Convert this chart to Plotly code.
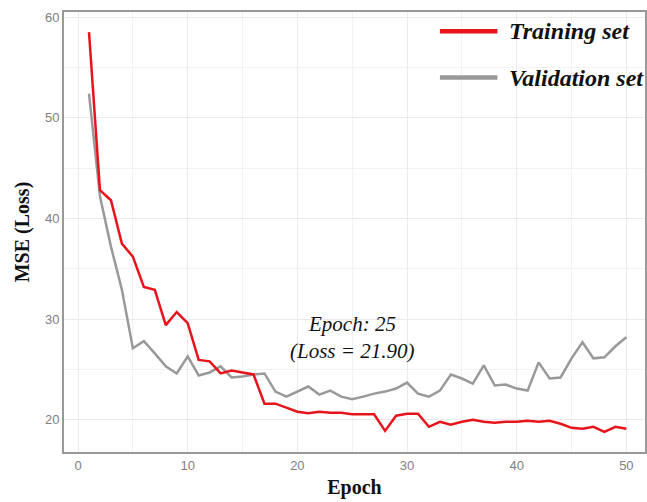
import plotly.graph_objects as go

epochs = list(range(1, 51))
training = [58.5, 42.8, 41.8, 37.5, 36.2, 33.2, 32.9, 29.4, 30.7, 29.6,
            25.95, 25.8, 24.6, 24.9, 24.7, 24.5, 21.6, 21.6, 21.2, 20.8,
            20.65, 20.8, 20.7, 20.7, 20.55, 20.55, 20.55, 18.9, 20.4, 20.6,
            20.6, 19.3, 19.8, 19.5, 19.8, 20.0, 19.8, 19.7, 19.8, 19.8,
            19.9, 19.8, 19.9, 19.6, 19.2, 19.1, 19.3, 18.8, 19.3, 19.1]
validation = [52.4, 42.2, 37.2, 32.9, 27.1, 27.8, 26.6, 25.3, 24.6, 26.3,
              24.4, 24.7, 25.3, 24.2, 24.3, 24.5, 24.6, 22.8, 22.3, 22.8,
              23.3, 22.5, 22.9, 22.3, 22.05, 22.3, 22.6, 22.8, 23.1, 23.7,
              22.6, 22.3, 22.9, 24.5, 24.1, 23.6, 25.4, 23.4, 23.5, 23.1,
              22.9, 25.7, 24.1, 24.2, 26.1, 27.7, 26.1, 26.2, 27.3, 28.2]
series_names = ["Training set", "Validation set"]
annotation_lines = ["Epoch: 25", "(Loss = 21.90)"]

RED = "#e8141c"
GRAY = "#999999"
serif = "Liberation Serif"

fig = go.Figure()
fig.add_trace(go.Scatter(x=epochs, y=validation, mode="lines", name=series_names[1],
                         line=dict(color=GRAY, width=2.5), showlegend=False))
fig.add_trace(go.Scatter(x=epochs, y=training, mode="lines", name=series_names[0],
                         line=dict(color=RED, width=2.5), showlegend=False))

# legend drawn as keys + labels
for i, (name, col) in enumerate(zip(series_names, [RED, GRAY])):
    ypos = 0.956 - i * 0.105
    fig.add_shape(type="line", xref="paper", yref="paper",
                  x0=0.647, x1=0.746, y0=ypos, y1=ypos,
                  line=dict(color=col, width=4.5))
    fig.add_annotation(xref="paper", yref="paper", x=0.762, y=ypos,
                       text=name, showarrow=False, xanchor="left", yanchor="middle",
                       font=dict(family=serif, size=24, color="#111",
                                 weight="bold", style="italic"))

fig.add_annotation(x=25, y=29.5, text=annotation_lines[0], showarrow=False,
                   font=dict(family=serif, size=21, color="#111", style="italic"))
fig.add_annotation(x=25, y=26.8, text=annotation_lines[1], showarrow=False,
                   font=dict(family=serif, size=21, color="#111", style="italic"))

fig.update_layout(
    width=647, height=502,
    margin=dict(l=64, r=2, t=12, b=50),
    paper_bgcolor="white", plot_bgcolor="white",
    font=dict(family="Liberation Sans", size=13, color="#808080"),
    xaxis=dict(range=[-1.28, 51.7], dtick=10, tick0=0, automargin=False,
               showgrid=True, gridcolor="#ebebeb", gridwidth=1,
               minor=dict(dtick=5, showgrid=True, gridcolor="#f2f2f2"),
               showline=True, linecolor="#999", linewidth=2, mirror=True,
               zeroline=False, ticks="",
               title=dict(text="<b>Epoch</b>", standoff=8,
                          font=dict(family=serif, size=20, color="#111"))),
    yaxis=dict(range=[16.8, 60.5], dtick=10, tick0=0, automargin=False,
               showgrid=True, gridcolor="#ebebeb", gridwidth=1,
               minor=dict(dtick=5, showgrid=True, gridcolor="#f2f2f2"),
               showline=True, linecolor="#999", linewidth=2, mirror=True,
               zeroline=False, ticks="",
               title=dict(text="<b>MSE (Loss)</b>", standoff=10,
                          font=dict(family=serif, size=20, color="#111"))),
)

fig.write_html("out.html", config={"displayModeBar": False},
               post_script="document.body.style.margin='0';document.body.style.overflow='hidden';")
